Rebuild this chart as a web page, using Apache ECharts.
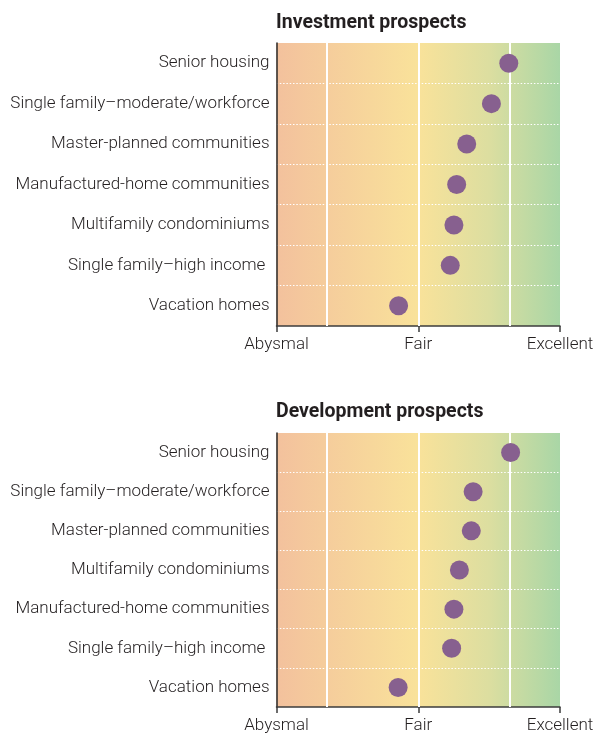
<!DOCTYPE html>
<html>
<head>
<meta charset="utf-8">
<style>
  html, body { margin: 0; padding: 0; background: #ffffff; }
  #chart { width: 598px; height: 744px; }
</style>
<script src="https://cdn.jsdelivr.net/npm/echarts@6/dist/echarts.min.js"></script>
</head>
<body>
<div id="chart"></div>
<script>
// Property types, listed top to bottom for each panel
const investmentCategories = [
  'Senior housing',
  'Single family\u2013moderate/workforce',
  'Master-planned communities',
  'Manufactured-home communities',
  'Multifamily condominiums',
  'Single family\u2013high income ',
  'Vacation homes'
];
const investmentScores = [6.98, 6.60, 6.06, 5.84, 5.78, 5.70, 4.57];

const developmentCategories = [
  'Senior housing',
  'Single family\u2013moderate/workforce',
  'Master-planned communities',
  'Multifamily condominiums',
  'Manufactured-home communities',
  'Single family\u2013high income ',
  'Vacation homes'
];
const developmentScores = [7.02, 6.20, 6.16, 5.90, 5.78, 5.73, 4.56];

const panelTitles = ['Investment prospects', 'Development prospects'];
const scaleLabels = ['Abysmal', 'Fair', 'Excellent'];

// Visible rating range and reference positions on it
const SCALE_MIN = 1.9, SCALE_MAX = 8.1;
const labelValues = [SCALE_MIN, 5, SCALE_MAX];
const guideValues = [3, 5, 7];

const FONT = 'Roboto, "Liberation Sans", sans-serif';
const DOT = '#87608f';

const panels = [
  { cats: investmentCategories, vals: investmentScores, top: 43, height: 283, titleTop: 8 },
  { cats: developmentCategories, vals: developmentScores, top: 433, height: 274, titleTop: 397 }
];

const bg = {
  type: 'linear', x: 0, y: 0, x2: 1, y2: 0,
  colorStops: [
    { offset: 0, color: '#f3c19d' },
    { offset: 0.5, color: '#f9e29a' },
    { offset: 0.75, color: '#dcdea0' },
    { offset: 1, color: '#a9d6a6' }
  ]
};

const grid = [], xAxis = [], yAxis = [], series = [], title = [];

panels.forEach((p, i) => {
  title.push({
    text: panelTitles[i],
    left: 271,
    top: p.titleTop,
    textStyle: { fontFamily: FONT, fontWeight: 'bold', fontSize: 19.5, color: '#231f20' }
  });
  grid.push({
    left: 276.5, right: 38, top: p.top, height: p.height,
    outerBoundsMode: 'none', containLabel: false,
    show: true, backgroundColor: bg, borderWidth: 0
  });
  // main value axis: line, outer ticks, labels
  xAxis.push({
    type: 'value', gridIndex: i, min: SCALE_MIN, max: SCALE_MAX,
    axisLine: { show: true, lineStyle: { color: '#3c3c3c', width: 1.5 } },
    axisTick: { show: true, inside: false, length: 6, customValues: labelValues,
      lineStyle: { color: '#3c3c3c', width: 1.5 } },
    axisLabel: {
      show: true, customValues: labelValues, margin: 10,
      fontFamily: FONT, fontSize: 17, fontWeight: 300, color: '#231f20',
      formatter: v => scaleLabels[labelValues.findIndex(x => Math.abs(x - v) < 1e-6)] || ''
    },
    splitLine: { show: false }
  });
  // overlay axis carrying the short inner ticks
  xAxis.push({
    type: 'value', gridIndex: i, min: SCALE_MIN, max: SCALE_MAX, position: 'bottom',
    axisLine: { show: false },
    axisTick: { show: true, inside: true, length: 8, customValues: guideValues,
      lineStyle: { color: '#4a4a4a', width: 1.5 } },
    axisLabel: { show: false },
    splitLine: { show: false }
  });
  yAxis.push({
    type: 'category', gridIndex: i, data: p.cats, inverse: true,
    axisLine: { show: true, lineStyle: { color: '#2a2a2a', width: 1.5 } },
    axisTick: { show: false },
    axisLabel: { fontFamily: FONT, fontSize: 17, fontWeight: 300, color: '#231f20', margin: 7 },
    splitLine: {
      show: true, showMinLine: false, showMaxLine: false,
      lineStyle: { color: '#ffffff', width: 1, type: [1.5, 1.8] }
    }
  });
  // white guide lines at 3, 5 and 7
  series.push({
    type: 'scatter', xAxisIndex: i * 2, yAxisIndex: i, data: [], z: 1, silent: true,
    markLine: {
      silent: true, symbol: ['none', 'none'], label: { show: false },
      lineStyle: { color: '#ffffff', width: 2, type: 'solid' },
      data: guideValues.map(v => ({ xAxis: v }))
    }
  });
  series.push({
    type: 'scatter', xAxisIndex: i * 2, yAxisIndex: i, z: 5,
    symbol: 'circle', symbolSize: 19,
    itemStyle: { color: DOT, opacity: 1 },
    data: p.vals.map((v, k) => [v, p.cats[k]])
  });
});

const chart = echarts.init(document.getElementById('chart'), null, { renderer: 'canvas' });
chart.setOption({
  animation: false,
  backgroundColor: '#ffffff',
  title, grid, xAxis, yAxis, series
});
</script>
</body>
</html>
